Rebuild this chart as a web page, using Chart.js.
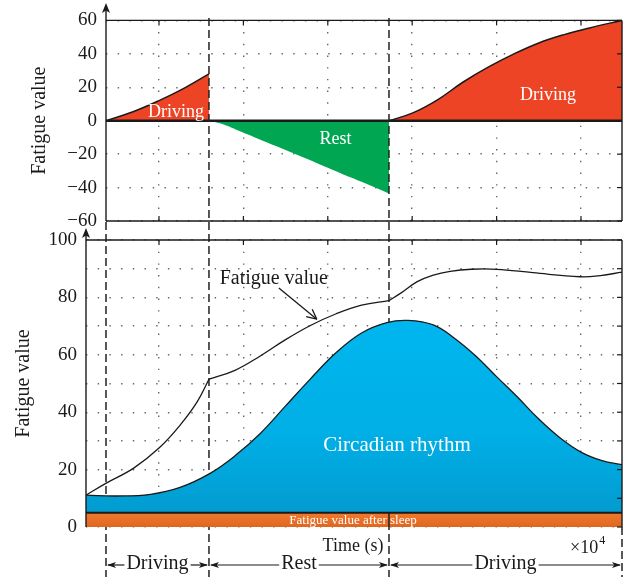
<!DOCTYPE html>
<html>
<head>
<meta charset="utf-8">
<script src="https://cdn.jsdelivr.net/npm/chart.js@4.4.0/dist/chart.umd.min.js"></script>
<style>
  body { margin: 0; background: #fff; }
  #wrap { position: relative; width: 633px; height: 579px; }
  #wrap canvas { position: absolute; left: 0; top: 0; }
</style>
</head>
<body>
<div id="wrap">
  <canvas id="top" width="633" height="579"></canvas>
  <canvas id="bottom" width="633" height="579"></canvas>
</div>
<script>
// time axis in grid columns (x10^4 s)
const xTicks = [1, 2, 3, 4, 5, 6];
const phaseBounds = [0.372, 1.592, 3.725, 6.486];
const phaseNames = ['Driving', 'Rest', 'Driving'];
const bottomStart = 0.135;

// upper panel: fatigue change in each phase
const drive1X = [0.372, 0.7, 1.0, 1.3, 1.592];
const drive1Y = [0, 5.5, 12, 19.5, 28];
const restX = [1.592, 1.75, 1.96, 2.4, 2.9, 3.3, 3.725];
const restY = [0, -2, -6.3, -15.5, -26, -34.5, -43.5];
const drive2X = [3.725, 4.0, 4.3, 4.6, 4.9, 5.2, 5.5, 5.8, 6.1, 6.486];
const drive2Y = [0, 4.5, 12.5, 23, 32, 39.8, 46.5, 51.5, 55.5, 60];

// lower panel
const circX = [0.135, 0.5, 0.9, 1.25, 1.6, 1.9, 2.2, 2.5, 2.8, 3.1, 3.4, 3.7, 3.95, 4.25, 4.5, 4.75, 5.0, 5.25, 5.5, 5.75, 6.0, 6.25, 6.486];
const circY = [11.1, 10.8, 11.4, 13.8, 18.6, 24.8, 32.6, 42.2, 51.8, 60.8, 67.6, 71.2, 72, 70.4, 65.8, 59.7, 52.4, 45.2, 37.6, 31.1, 26.1, 23.1, 21.7];
const fatigue1X = [0.135, 0.37, 0.7, 1.0, 1.25, 1.45, 1.592];
const fatigue1Y = [11.1, 15.2, 20.5, 27.5, 35.5, 43.5, 51.5];
const fatigue2X = [1.592, 1.9, 2.2, 2.5, 2.8, 3.1, 3.4, 3.725];
const fatigue2Y = [51.5, 54.6, 59.6, 65.3, 70.3, 74.3, 77.3, 78.9];
const fatigue3X = [3.725, 3.86, 4.06, 4.25, 4.45, 4.7, 5.0, 5.43, 5.99, 6.23, 6.486];
const fatigue3Y = [78.9, 81.4, 85.5, 87.8, 89.1, 89.8, 89.8, 88.6, 87.2, 87.6, 88.8];
const sleepLevel = 5;

const SERIF = '"Liberation Serif", "Times New Roman", serif';
const RED = '#ee4426';
const GREEN = '#00a651';
const GRID = '#666';
const INK = '#1a1a1a';

const pts = (xs, ys) => xs.map((x, i) => ({ x, y: ys[i] }));

function line(ctx, x1, y1, x2, y2) {
    ctx.beginPath();
    ctx.moveTo(x1, y1);
    ctx.lineTo(x2, y2);
    ctx.stroke();
}

function headFilled(ctx, x, y, ang, len, half) {
    ctx.save();
    ctx.translate(x, y);
    ctx.rotate(ang);
    ctx.beginPath();
    ctx.moveTo(0, 0);
    ctx.lineTo(-len, -half);
    ctx.lineTo(-len * 0.75, 0);
    ctx.lineTo(-len, half);
    ctx.closePath();
    ctx.fill();
    ctx.restore();
}

function tickMarks(chart, opts) {
    const { ctx, chartArea: a } = chart;
    const x = chart.scales.x, y = chart.scales.y;
    ctx.save();
    ctx.strokeStyle = INK;
    ctx.lineWidth = 1.2;
    xTicks.forEach(v => {
        const px = x.getPixelForValue(v);
        if (opts.top) line(ctx, px, a.top, px, a.top + 5);
        if (opts.bottom) line(ctx, px, a.bottom, px, a.bottom - 5);
    });
    y.ticks.forEach(t => {
        const py = y.getPixelForValue(t.value);
        line(ctx, a.right, py, a.right - 5, py);
    });
    ctx.restore();
}

function yTitle(ctx, cx, cy) {
    ctx.save();
    ctx.translate(cx, cy);
    ctx.rotate(-Math.PI / 2);
    ctx.fillStyle = INK;
    ctx.font = '20px ' + SERIF;
    ctx.textAlign = 'center';
    ctx.textBaseline = 'middle';
    ctx.fillText('Fatigue value', 0, 0);
    ctx.restore();
}

const gridOpts = { color: GRID, lineWidth: 1.4, drawTicks: false };
const borderOpts = { display: false, dash: [1.4, 10.3] };
const tickFont = { family: SERIF, size: 19 };

const topDecor = {
    id: 'topDecor',
    afterDatasetsDraw(chart) {
        const { ctx, chartArea: a } = chart;
        const x = chart.scales.x, y = chart.scales.y;
        ctx.save();
        ctx.strokeStyle = INK;
        ctx.fillStyle = INK;

        ctx.lineWidth = 2.4;
        line(ctx, a.left, y.getPixelForValue(0), a.right, y.getPixelForValue(0));

        ctx.lineWidth = 1.4;
        line(ctx, a.left, a.top, a.right, a.top);
        line(ctx, a.left, a.bottom, a.right, a.bottom);
        line(ctx, a.right, a.top, a.right, a.bottom);
        line(ctx, a.left, a.bottom, a.left, 8);
        headFilled(ctx, a.left, 3, -Math.PI / 2, 10, 4);

        ctx.fillStyle = '#fff';
        ctx.font = '18px ' + SERIF;
        ctx.textAlign = 'center';
        ctx.textBaseline = 'middle';
        ctx.fillText('Driving', x.getPixelForValue(1.2), y.getPixelForValue(5));
        ctx.fillText('Rest', x.getPixelForValue(3.09), y.getPixelForValue(-11));
        ctx.fillText('Driving', x.getPixelForValue(5.61), y.getPixelForValue(15));
        ctx.restore();

        tickMarks(chart, { top: true, bottom: true });
        yTitle(ctx, 40, (a.top + a.bottom) / 2);
    },
};

new Chart(document.getElementById('top'), {
    type: 'line',
    data: {
        datasets: [
            { data: pts(drive1X, drive1Y), borderColor: INK, borderWidth: 1.5, backgroundColor: RED, fill: 'origin', tension: 0.4 },
            { data: pts(restX, restY), borderColor: 'transparent', borderWidth: 0, backgroundColor: GREEN, fill: 'origin', tension: 0.4 },
            { data: pts(drive2X, drive2Y), borderColor: INK, borderWidth: 1.5, backgroundColor: RED, fill: 'origin', tension: 0.4 },
        ],
    },
    options: {
        responsive: false,
        animation: false,
        events: [],
        layout: { padding: { left: 0, right: 11, top: 18, bottom: 358 } },
        elements: { point: { radius: 0 } },
        plugins: { legend: { display: false }, tooltip: { enabled: false } },
        scales: {
            x: {
                type: 'linear',
                min: phaseBounds[0],
                max: phaseBounds[3],
                afterBuildTicks: s => { s.ticks = xTicks.map(v => ({ value: v })); },
                afterFit: s => { s.height = 0; },
                ticks: { display: false },
                grid: gridOpts,
                border: borderOpts,
            },
            y: {
                min: -60,
                max: 60,
                afterFit: s => { s.width = 106; },
                ticks: {
                    stepSize: 20,
                    padding: 9,
                    color: INK,
                    font: tickFont,
                    callback: v => String(v).replace('-', '\u2212'),
                },
                grid: gridOpts,
                border: borderOpts,
            },
        },
    },
    plugins: [topDecor],
});

const bottomDecor = {
    id: 'bottomDecor',
    beforeDatasetsDraw(chart) {
        const { ctx, chartArea: a } = chart;
        const x = chart.scales.x;
        ctx.save();
        ctx.strokeStyle = '#222';
        ctx.lineWidth = 1.5;
        ctx.setLineDash([8, 4]);
        const p = phaseBounds.map(v => x.getPixelForValue(v));
        line(ctx, p[0], 222, p[0], 577);
        line(ctx, p[1], 18, p[1], 577);
        line(ctx, p[2], 18, p[2], 577);
        line(ctx, p[3], a.bottom, p[3], 577);
        ctx.restore();
    },
    afterDatasetsDraw(chart) {
        const { ctx, chartArea: a } = chart;
        const x = chart.scales.x, y = chart.scales.y;
        ctx.save();
        ctx.strokeStyle = INK;
        ctx.fillStyle = INK;
        ctx.lineWidth = 1.4;
        line(ctx, a.left, a.top, a.right, a.top);
        line(ctx, a.right, a.top, a.right, a.bottom);
        line(ctx, a.left, a.bottom, a.left, a.top - 7);
        headFilled(ctx, a.left, a.top - 12, -Math.PI / 2, 10, 4);

        // boundary of the second driving phase through the sleep band
        const pRest = x.getPixelForValue(phaseBounds[2]);
        line(ctx, pRest, y.getPixelForValue(sleepLevel), pRest, a.bottom);

        // sleep band label
        ctx.fillStyle = '#fff';
        ctx.font = '13px ' + SERIF;
        ctx.textAlign = 'center';
        ctx.textBaseline = 'middle';
        ctx.fillText('Fatigue value after sleep', 353, (y.getPixelForValue(0) + y.getPixelForValue(sleepLevel)) / 2 + 1);

        ctx.font = '21px ' + SERIF;
        ctx.fillText('Circadian rhythm', x.getPixelForValue(3.82), y.getPixelForValue(28.5));

        // fatigue label with arrow
        ctx.fillStyle = INK;
        ctx.font = '20px ' + SERIF;
        ctx.fillText('Fatigue value', x.getPixelForValue(2.36), y.getPixelForValue(86.5));
        const ax1 = x.getPixelForValue(2.42), ay1 = y.getPixelForValue(83.3);
        const ax2 = x.getPixelForValue(2.87), ay2 = y.getPixelForValue(72.4);
        ctx.lineWidth = 1.3;
        line(ctx, ax1, ay1, ax2, ay2);
        const ang = Math.atan2(ay2 - ay1, ax2 - ax1);
        [0.45, -0.45].forEach(d => {
            line(ctx, ax2, ay2, ax2 - 11 * Math.cos(ang + d), ay2 - 11 * Math.sin(ang + d));
        });

        // axis caption
        ctx.font = '18px ' + SERIF;
        ctx.fillText('Time (s)', 353, 546);
        ctx.textAlign = 'left';
        const base = '\u00d710';
        ctx.fillText(base, 570, 548);
        const bw = ctx.measureText(base).width;
        ctx.font = '12px ' + SERIF;
        ctx.fillText('4', 570 + bw + 1, 541);

        // phase arrows
        ctx.font = '20px ' + SERIF;
        ctx.textAlign = 'center';
        ctx.lineWidth = 1.2;
        const rowY = 565;
        phaseNames.forEach((name, i) => {
            const l = x.getPixelForValue(phaseBounds[i]);
            const r = x.getPixelForValue(phaseBounds[i + 1]);
            const mid = (l + r) / 2;
            const w = ctx.measureText(name).width;
            ctx.fillText(name, mid, rowY - 1);
            line(ctx, l + 2, rowY, mid - w / 2 - 2, rowY);
            line(ctx, mid + w / 2 + 2, rowY, r - 2, rowY);
            headFilled(ctx, l + 1, rowY, Math.PI, 9, 3);
            headFilled(ctx, r - 1, rowY, 0, 9, 3);
        });
        ctx.restore();

        tickMarks(chart, { top: true, bottom: false });
        yTitle(ctx, 24, (a.top + a.bottom) / 2);
    },
};

new Chart(document.getElementById('bottom'), {
    type: 'line',
    data: {
        datasets: [
            {
                data: pts([bottomStart, phaseBounds[3]], [sleepLevel, sleepLevel]),
                borderColor: INK,
                borderWidth: 2,
                tension: 0,
                fill: 'origin',
                backgroundColor: c => {
                    const a = c.chart.chartArea;
                    if (!a) return '#e8722a';
                    const g = c.chart.ctx.createLinearGradient(0, a.bottom - 15, 0, a.bottom);
                    g.addColorStop(0, '#ef7b2e');
                    g.addColorStop(1, '#e0661f');
                    return g;
                },
            },
            {
                data: pts(circX, circY),
                borderColor: INK,
                borderWidth: 1.3,
                tension: 0.4,
                fill: { value: sleepLevel },
                backgroundColor: c => {
                    const a = c.chart.chartArea;
                    if (!a) return '#00b0e8';
                    const g = c.chart.ctx.createLinearGradient(0, 320, 0, a.bottom);
                    g.addColorStop(0, '#00b6ee');
                    g.addColorStop(0.55, '#00afe6');
                    g.addColorStop(1, '#0398cc');
                    return g;
                },
            },
            { data: pts(fatigue1X, fatigue1Y), borderColor: INK, borderWidth: 1.3, fill: false, tension: 0.4 },
            { data: pts(fatigue2X, fatigue2Y), borderColor: INK, borderWidth: 1.3, fill: false, tension: 0.4 },
            { data: pts(fatigue3X, fatigue3Y), borderColor: INK, borderWidth: 1.3, fill: false, tension: 0.4 },
        ],
    },
    options: {
        responsive: false,
        animation: false,
        events: [],
        layout: { padding: { left: 0, right: 11, top: 240, bottom: 52 } },
        elements: { point: { radius: 0 } },
        plugins: { legend: { display: false }, tooltip: { enabled: false } },
        scales: {
            x: {
                type: 'linear',
                min: bottomStart,
                max: phaseBounds[3],
                afterBuildTicks: s => { s.ticks = xTicks.map(v => ({ value: v })); },
                afterFit: s => { s.height = 0; },
                ticks: { display: false },
                grid: gridOpts,
                border: borderOpts,
            },
            y: {
                min: 0,
                max: 100,
                afterFit: s => { s.width = 86; },
                ticks: {
                    stepSize: 10,
                    padding: 9,
                    color: INK,
                    font: tickFont,
                    callback: v => (v % 20 === 0 ? v : ''),
                },
                grid: gridOpts,
                border: borderOpts,
            },
        },
    },
    plugins: [bottomDecor],
});
</script>
</body>
</html>
